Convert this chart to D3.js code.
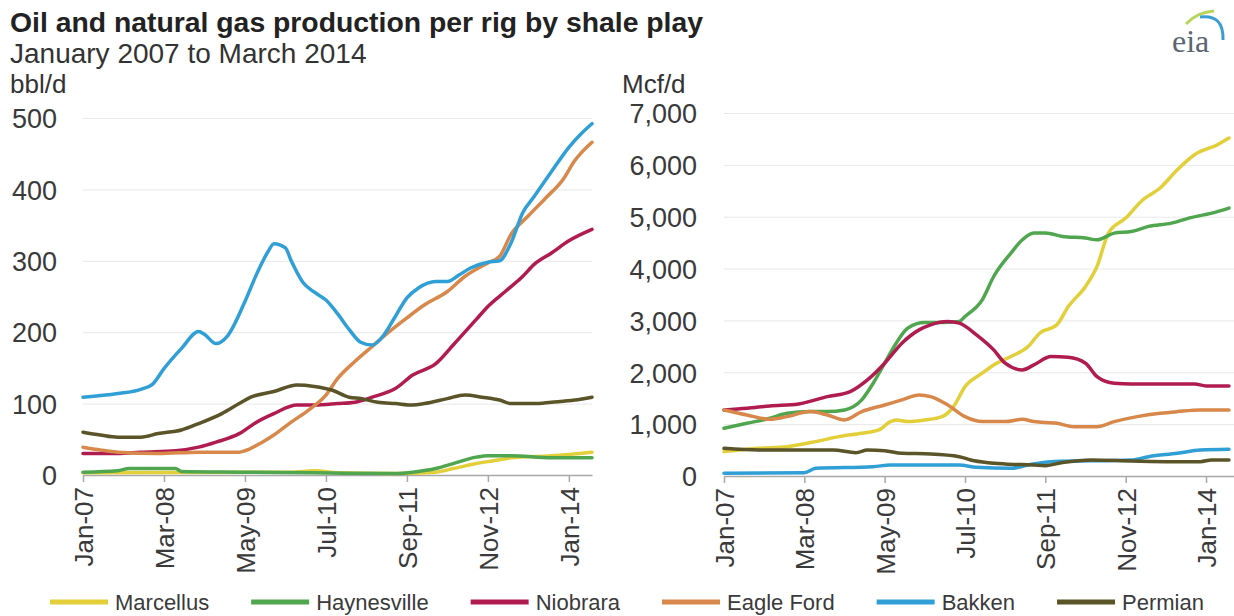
<!DOCTYPE html>
<html>
<head>
<meta charset="utf-8">
<script src="https://cdn.jsdelivr.net/npm/d3@7"></script>
<style>
  body { margin: 0; background: #fff; }
  svg { font-family: "Liberation Sans", Arial, sans-serif; }
  .grid line { stroke: #e8e8e8; }
  .yaxis text { fill: #3a3a3a; font-size: 27px; }
  .xaxis text { fill: #3a3a3a; font-size: 26px; }
  .xaxis path, .xaxis line { stroke: #a8a8a8; stroke-width: 1.5; }
</style>
</head>
<body>
<div id="chart"></div>
<script>

/* CONSTANTS AND GLOBALS */
const width = 1234;
const height = 616;

// DATA - months counted from Jan-07
const tickMonths = [0, 14, 28, 42, 56, 70, 84];
const tickLabels = ["Jan-07", "Mar-08", "May-09", "Jul-10", "Sep-11", "Nov-12", "Jan-14"];
const plays = ["Marcellus", "Haynesville", "Niobrara", "Eagle Ford", "Bakken", "Permian"];
const colors = ["#e2cf3a", "#4fa64f", "#b11c50", "#d7884a", "#309fd6", "#5a5428"];

const oilTicks = [0, 100, 200, 300, 400, 500];
const gasTicks = [0, 1000, 2000, 3000, 4000, 5000, 6000, 7000];

// oil, bbl/d per rig
const marcellusOil = [[0,3],[36,4],[40,6],[44,3],[54,2],[61,4],[64,9],[68,16],[71,20],[74,24],[81,27],[88,32]];
const haynesvilleOil = [[0,4],[6,6],[8,9],[16,9],[17,5],[27,4],[40,3],[54,2],[57,4],[61,9],[64,16],[68,25],[70,27],[74,27],[81,24],[88,24]];
const niobraraOil = [[0,30],[6,30],[10,32],[16,34],[20,39],[23,46],[27,58],[30,74],[33,86],[37,98],[40,98],[44,100],[47,102],[50,109],[54,121],[57,140],[61,156],[64,182],[68,218],[70,236],[73,257],[76,278],[78,295],[81,311],[84,328],[88,344]];
const eagleFordOil = [[0,39],[3,35],[6,32],[13,30],[20,32],[27,32],[28,34],[31,46],[33,56],[36,74],[39,91],[42,112],[44,135],[47,159],[50,180],[53,201],[56,220],[59,238],[63,257],[66,278],[70,297],[72,306],[74,337],[77,363],[80,388],[83,414],[85,440],[88,466]];
const bakkenOil = [[0,109],[6,114],[10,120],[12,127],[14,149],[17,177],[20,201],[21,197],[23,184],[25,195],[28,243],[30,281],[32,313],[33,324],[35,318],[36,300],[38,270],[40,256],[42,245],[44,226],[46,204],[48,186],[50,182],[52,196],[54,222],[56,248],[58,262],[61,271],[63,271],[65,280],[67,290],[70,298],[72,300],[74,325],[76,367],[78,390],[81,425],[84,459],[86,477],[88,492]];
const permianOil = [[0,60],[3,56],[6,53],[10,53],[13,58],[17,63],[20,72],[24,86],[27,100],[29,109],[33,117],[37,126],[40,124],[43,119],[46,109],[48,107],[51,102],[54,100],[57,98],[59,100],[63,107],[66,112],[69,109],[72,105],[74,100],[78,100],[81,102],[85,105],[88,109]];

// natural gas, Mcf/d per rig
const marcellusGas = [[0,470],[6,534],[11,566],[16,663],[20,759],[24,824],[27,888],[29,1049],[30,1081],[32,1049],[35,1081],[38,1145],[40,1338],[42,1724],[45,1982],[47,2142],[50,2303],[53,2496],[55,2754],[58,2915],[60,3268],[63,3655],[65,4041],[67,4684],[70,4973],[73,5327],[76,5553],[79,5906],[82,6196],[86,6389],[88,6518]];
const haynesvilleGas = [[0,920],[4,1017],[8,1113],[11,1210],[15,1242],[18,1242],[21,1274],[24,1467],[26,1789],[28,2175],[30,2561],[32,2850],[35,2960],[38,2960],[41,2980],[42,3075],[45,3397],[47,3847],[50,4298],[52,4555],[54,4684],[56,4684],[59,4620],[63,4588],[65,4555],[68,4684],[71,4716],[74,4813],[78,4877],[81,4973],[85,5070],[88,5167]];
const niobraraGas = [[0,1274],[4,1306],[8,1351],[13,1390],[18,1531],[22,1628],[25,1853],[28,2175],[31,2561],[34,2818],[36,2915],[39,2979],[41,2947],[44,2722],[47,2432],[49,2175],[52,2046],[54,2142],[57,2303],[60,2290],[63,2175],[65,1917],[68,1789],[71,1776],[78,1776],[82,1776],[84,1737],[88,1737]];
const eagleFordGas = [[0,1274],[4,1177],[8,1094],[11,1145],[15,1242],[18,1177],[21,1081],[24,1242],[28,1370],[31,1467],[34,1563],[36,1531],[39,1370],[42,1145],[45,1049],[49,1049],[52,1094],[54,1049],[58,1017],[61,952],[65,952],[68,1049],[72,1145],[76,1210],[79,1242],[83,1274],[88,1274]];
const bakkenGas = [[0,51],[14,64],[16,148],[26,180],[29,212],[41,212],[44,167],[50,148],[53,212],[57,277],[71,309],[74,373],[79,438],[83,502],[88,515]];
const permianGas = [[0,534],[6,502],[19,502],[23,450],[25,502],[28,489],[31,438],[36,425],[41,373],[43,309],[46,257],[49,232],[54,212],[56,200],[59,260],[64,309],[71,290],[78,277],[83,277],[85,309],[88,309]];

const oilSeries = [marcellusOil, haynesvilleOil, niobraraOil, eagleFordOil, bakkenOil, permianOil];
const gasSeries = [marcellusGas, haynesvilleGas, niobraraGas, eagleFordGas, bakkenGas, permianGas];

const svg = d3.select("#chart")
    .append("svg")
    .attr("width", width)
    .attr("height", height);

// TITLES
svg.append("text")
    .attr("x", 10).attr("y", 32)
    .attr("textLength", 693).attr("lengthAdjust", "spacingAndGlyphs")
    .style("font-size", "27px").style("font-weight", "bold").style("fill", "#222")
    .text("Oil and natural gas production per rig by shale play");

svg.append("text")
    .attr("x", 10).attr("y", 63)
    .style("font-size", "28px").style("fill", "#333")
    .text("January 2007 to March 2014");

// eia logo
const logo = svg.append("g");
logo.append("path")
    .attr("d", "M1186,24 Q1197,12 1214,11")
    .attr("fill", "none").attr("stroke", "#b8d45a").attr("stroke-width", 3);
logo.append("path")
    .attr("d", "M1200,17 Q1224,14 1223,40")
    .attr("fill", "none").attr("stroke", "#3a9fd0").attr("stroke-width", 3);
logo.append("text")
    .attr("x", 1172).attr("y", 52)
    .style("font-family", "'Liberation Serif', 'DejaVu Serif', serif")
    .style("font-size", "32px").style("fill", "#5c6670")
    .text("eia");

/* PANEL */
function drawPanel(series, opts) {
    const xScale = d3.scaleLinear()
        .domain([0, opts.xMax])
        .range([opts.x0, opts.x1]);

    const yScale = d3.scaleLinear()
        .domain([0, opts.yTicks[opts.yTicks.length - 1]])
        .range([opts.y0, opts.yTop]);

    // unit label
    svg.append("text")
        .attr("x", opts.unitX).attr("y", 93)
        .style("font-size", "26px").style("fill", "#333")
        .text(opts.unit);

    // y axis with gridlines
    const yAxis = svg.append("g")
        .attr("class", "yaxis grid")
        .attr("transform", "translate(" + opts.x0 + ",0)")
        .call(d3.axisLeft(yScale)
            .tickValues(opts.yTicks)
            .tickFormat(opts.format)
            .tickSize(-(opts.x1 - opts.x0))
            .tickPadding(opts.pad));
    yAxis.select(".domain").remove();
    yAxis.selectAll(".tick text").attr("dy", "0.36em");
    yAxis.selectAll(".tick").filter(d => d === 0).select("line").remove();

    // x axis
    const xAxis = svg.append("g")
        .attr("class", "xaxis")
        .attr("transform", "translate(0," + opts.y0 + ")")
        .call(d3.axisBottom(xScale)
            .tickValues(tickMonths)
            .tickFormat((d, i) => tickLabels[i])
            .tickSize(7)
            .tickSizeOuter(0));
    xAxis.selectAll("text")
        .attr("transform", "rotate(-90)")
        .attr("text-anchor", "end")
        .attr("x", -12)
        .attr("y", 0)
        .attr("dy", "0.36em");

    const line = d3.line()
        .x(d => xScale(d[0]))
        .y(d => yScale(d[1]))
        .curve(d3.curveMonotoneX);

    svg.append("g")
        .selectAll("path")
        .data(series)
        .join("path")
        .attr("d", line)
        .attr("fill", "none")
        .attr("stroke", (d, i) => colors[i])
        .attr("stroke-width", 3.5)
        .attr("stroke-linejoin", "round")
        .attr("stroke-linecap", "round");
}

drawPanel(oilSeries, {
    x0: 83, x1: 592, xMax: 88,
    y0: 475, yTop: 118,
    yTicks: oilTicks, format: d3.format("d"), pad: 26,
    unit: "bbl/d", unitX: 10
});

drawPanel(gasSeries, {
    x0: 724, x1: 1234.7, xMax: 89,
    y0: 476, yTop: 113,
    yTicks: gasTicks, format: d3.format(","), pad: 27,
    unit: "Mcf/d", unitX: 622
});

// LEGEND
const legend = svg.append("g").attr("transform", "translate(0,602)");
let lx = 50;
plays.forEach((name, i) => {
    legend.append("line")
        .attr("x1", lx).attr("x2", lx + 58)
        .attr("y1", 0).attr("y2", 0)
        .attr("stroke", colors[i]).attr("stroke-width", 5);
    const t = legend.append("text")
        .attr("x", lx + 65).attr("y", 0).attr("dy", "0.36em")
        .style("font-size", "22px").style("fill", "#3a3a3a")
        .text(name);
    lx = lx + 65 + t.node().getComputedTextLength() + 42;
});

</script>
</body>
</html>
